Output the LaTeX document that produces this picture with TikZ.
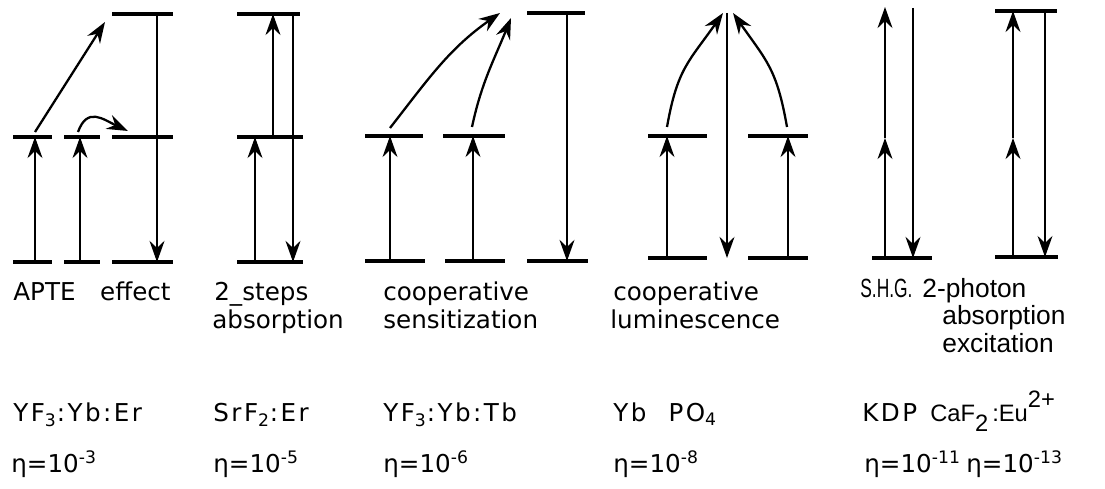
\documentclass[tikz,border=0pt]{standalone}
\usepackage{fontspec}
\usepackage{graphicx}
\setmainfont{DejaVu Sans}
\newfontfamily\helv{Liberation Sans}
\usetikzlibrary{arrows.meta}

\begin{document}
\begin{tikzpicture}[
    x=0.02cm, y=0.02cm,
    level/.style={line width=1.9pt},
    trans/.style={line width=1.3pt, -{Stealth[length=12pt, width=8.5pt, inset=4pt]}},
    weak/.style={trans, line width=0.8pt},
    lbl/.style={anchor=base west, inner sep=0pt, font=\fontsize{14}{16}\selectfont},
    mat/.style={lbl, font=\fontsize{14}{16}\selectfont\addfontfeature{LetterSpace=10}},
    hlbl/.style={anchor=base west, inner sep=0pt, font=\helv\fontsize{15}{17}\selectfont}
]
\useasboundingbox (0,0) rectangle (1105,489);

% APTE effect
\draw[level] (13,352) -- (52,352) (13,227) -- (52,227);
\draw[level] (64,352) -- (100,352) (64,227) -- (100,227);
\draw[level] (112,475) -- (173,475) (112,352) -- (173,352) (112,227) -- (173,227);
\coordinate (apte1-lo) at (35,227);
\coordinate (apte1-mid) at (35,352);
\coordinate (apte1-ex) at (35,357);
\coordinate (apte2-lo) at (80,227);
\coordinate (apte2-mid) at (80,352);
\coordinate (apte2-ex) at (78,357);
\coordinate (apte3-hi) at (157,475);
\coordinate (apte3-lo) at (157,227);
\coordinate (apte3-mid) at (128,358);
\coordinate (apte-top) at (105,467);
\draw[trans] (apte1-lo) -- (apte1-mid);
\draw[trans] (apte2-lo) -- (apte2-mid);
\draw[trans] (apte3-hi) -- (apte3-lo);
\draw[trans] (apte1-ex) -- (apte-top);
\draw[trans] (apte2-ex) to[out=70, in=155, looseness=1.4] (apte3-mid);

% 2 steps absorption
\draw[level] (237,475) -- (300,475) (237,352) -- (303,352) (237,227) -- (303,227);
\coordinate (steps-lo1) at (255,227);
\coordinate (steps-mid1) at (255,352);
\coordinate (steps-mid2) at (273,352);
\coordinate (steps-hi2) at (273,475);
\coordinate (steps-hi3) at (293,475);
\coordinate (steps-lo3) at (293,227);
\draw[trans] (steps-lo1) -- (steps-mid1);
\draw[trans] (steps-mid2) -- (steps-hi2);
\draw[trans] (steps-hi3) -- (steps-lo3);

% cooperative sensitization
\draw[level] (365,353) -- (423,353) (365,228) -- (425,228);
\draw[level] (443,353) -- (505,353) (445,228) -- (505,228);
\draw[level] (527,476) -- (585,476) (527,228) -- (588,228);
\coordinate (sens1-lo) at (390,228);
\coordinate (sens1-mid) at (390,353);
\coordinate (sens1-ex) at (390,361);
\coordinate (sens2-lo) at (473,228);
\coordinate (sens2-mid) at (473,353);
\coordinate (sens2-ex) at (472,362);
\coordinate (sens3-hi) at (567,476);
\coordinate (sens3-lo) at (567,228);
\coordinate (sens-top1) at (500,476);
\coordinate (sens-top2) at (511,471);
\draw[trans] (sens1-lo) -- (sens1-mid);
\draw[trans] (sens2-lo) -- (sens2-mid);
\draw[trans] (sens3-hi) -- (sens3-lo);
\draw[trans] (sens1-ex) to[out=52, in=215] (sens-top1);
\draw[trans] (sens2-ex) to[out=78, in=248] (sens-top2);

% cooperative luminescence
\draw[level] (648,353) -- (707,353) (648,231) -- (707,231);
\draw[level] (748,353) -- (808,353) (748,231) -- (808,231);
\coordinate (lum1-lo) at (667,231);
\coordinate (lum1-mid) at (667,353);
\coordinate (lum1-ex) at (667,362);
\coordinate (lum2-lo) at (788,231);
\coordinate (lum2-mid) at (788,353);
\coordinate (lum2-ex) at (787,362);
\coordinate (lum-hi) at (727,476);
\coordinate (lum-lo) at (727,231);
\coordinate (lum-top1) at (723,476);
\coordinate (lum-top2) at (733,476);
\draw[trans] (lum1-lo) -- (lum1-mid);
\draw[trans] (lum2-lo) -- (lum2-mid);
\draw[trans] (lum-hi) -- (lum-lo);
\draw[trans] (lum1-ex) to[out=80, in=235, looseness=1.2] (lum-top1);
\draw[trans] (lum2-ex) to[out=100, in=305, looseness=1.2] (lum-top2);

% S.H.G.
\draw[level] (872,231) -- (932,231);
\coordinate (shg-lo) at (885,231);
\coordinate (shg-mid) at (885,351);
\coordinate (shg-hi) at (885,482);
\coordinate (shg-dn) at (913,481);
\coordinate (shg-end) at (913,231);
\draw[trans] (shg-lo) -- (shg-mid);
\draw[trans] (shg-mid) -- (shg-hi);
\draw[trans] (shg-dn) -- (shg-end);

% 2-photon absorption
\draw[level] (995,478) -- (1057,478) (995,232) -- (1058,232);
\coordinate (tpa-lo) at (1013,232);
\coordinate (tpa-mid) at (1013,351);
\coordinate (tpa-hi) at (1013,478);
\coordinate (tpa-dn) at (1045,478);
\coordinate (tpa-end) at (1045,232);
\draw[trans] (tpa-lo) -- (tpa-mid);
\draw[trans] (tpa-mid) -- (tpa-hi);
\draw[weak] (tpa-dn) -- (tpa-end);

% labels
\node[lbl] (t-apte) at (13,188) {APTE\hspace{1em}effect};
\node[lbl] (t-steps) at (214,188) {2\_steps};
\node[lbl] (t-steps2) at (212,160) {absorption};
\node[lbl] (t-sens) at (383,188) {cooperative};
\node[lbl] (t-sens2) at (383,160) {sensitization};
\node[lbl] (t-lum) at (613,188) {cooperative};
\node[lbl] (t-lum2) at (610,160) {luminescence};
\node[hlbl] (t-shg) at (860,191) {\scalebox{0.66}[1]{S.H.G.}};
\node[hlbl] (t-tpa) at (922,191) {2-photon};
\node[hlbl] (t-tpa2) at (942,164) {absorption};
\node[hlbl] (t-tpa3) at (942,136) {excitation};

% materials
\node[mat] (m-apte) at (13,67) {YF\textsubscript{3}:Yb:Er};
\node[mat] (m-steps) at (213,67) {SrF\textsubscript{2}:Er};
\node[mat] (m-sens) at (383,67) {YF\textsubscript{3}:Yb:Tb};
\node[mat] (m-lum) at (613,67) {Yb\hspace{0.9em}PO\textsubscript{4}};
\node[mat] (m-shg) at (862,67) {KDP};
\node[hlbl, font=\helv\fontsize{13.5}{15}\selectfont] (m-tpa) at (930,67)
  {CaF\raisebox{-0.38em}{2}\,:Eu\raisebox{0.6em}{2+}};

% efficiencies
\node[lbl] (e-apte) at (11,16) {η=10\textsuperscript{-3}};
\node[lbl] (e-steps) at (213,16) {η=10\textsuperscript{-5}};
\node[lbl] (e-sens) at (383,16) {η=10\textsuperscript{-6}};
\node[lbl] (e-lum) at (613,16) {η=10\textsuperscript{-8}};
\node[lbl] (e-shg) at (864,16) {η=10\textsuperscript{-11}};
\node[lbl] (e-tpa) at (966,16) {η=10\textsuperscript{-13}};
\end{tikzpicture}
\end{document}
